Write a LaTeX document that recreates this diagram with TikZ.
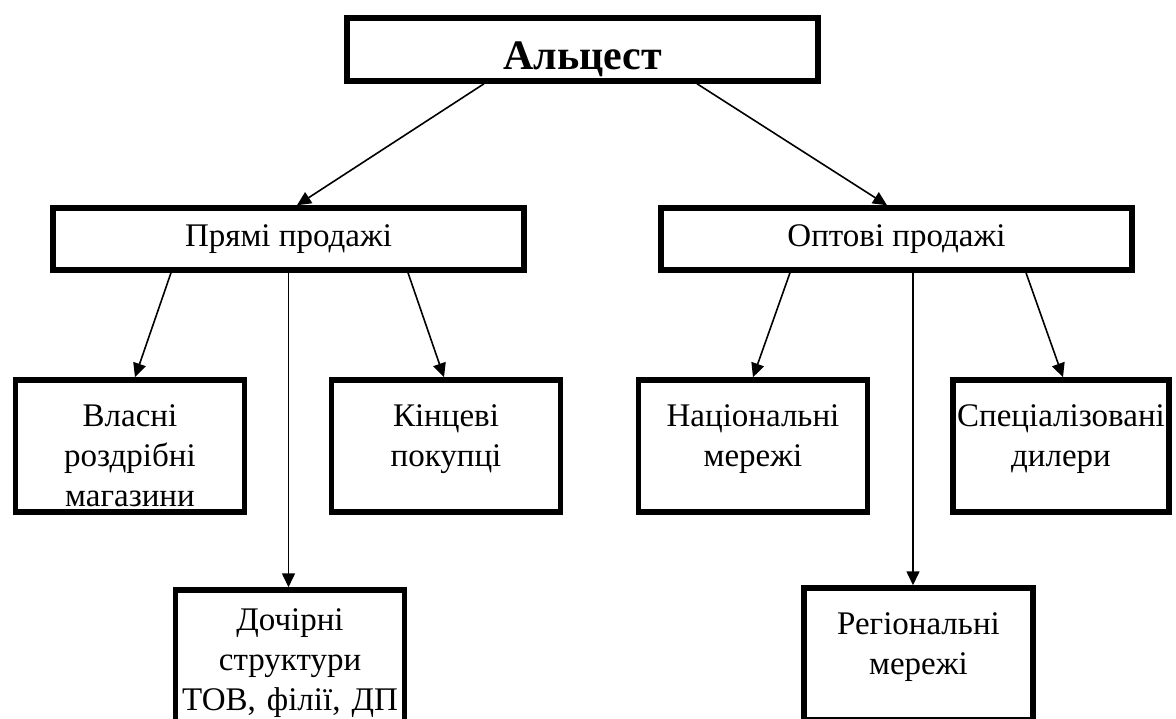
\documentclass[tikz,border=0pt]{standalone}
\usepackage{fontspec}
\setmainfont{Liberation Serif}
\usetikzlibrary{arrows.meta}

\begin{document}
\begin{tikzpicture}[x=1pt,y=-1pt,->,>={Triangle[length=14pt,width=13pt]},line width=1.6pt,
        top node/.style={rectangle,draw,line width=5.5pt,minimum width=471pt,minimum height=63pt,
          inner sep=0pt,text height=39pt,text depth=0pt,font=\fontsize{42}{48}\selectfont\bfseries},
        group node/.style={rectangle,draw,line width=5.5pt,minimum width=471pt,minimum height=62pt,
          inner sep=0pt,font=\fontsize{33}{39}\selectfont},
        leaf node/.style={rectangle,draw,line width=5.5pt,text width=229pt,align=center,inner sep=0pt,
          text height=46pt,text depth=86pt,font=\fontsize{33}{40}\selectfont}]

      \clip (0,0) rectangle (1176,718);

      \node[top node] (alc) at (582.5,49.5) {Альцест};
      \node[group node] (direct) at (288.5,239) {Прямі продажі};
      \node[group node] (whole) at (896.5,239) {Оптові продажі};

      \node[leaf node] (own) at (130,446) {Власні\\роздрібні\\магазини};
      \node[leaf node] (final) at (446,446) {Кінцеві\\покупці};
      \node[leaf node,text height=40pt,text depth=92pt] (sub) at (290,656) {Дочірні\\структури\\ТОВ, філії, ДП};
      \node[leaf node] (nat) at (753,446) {Національні\\мережі};
      \node[leaf node,text width=216pt] (spec) at (1061,446) {Спеціалізовані\\дилери};
      \node[leaf node] (reg) at (918.5,654) {Регіональні\\мережі};

      \path
      ([xshift=-98.5pt]alc.south) edge ([xshift=8.5pt]direct.north)
      ([xshift=114.5pt]alc.south) edge ([xshift=-9.5pt]whole.north)
      ([xshift=-117.5pt]direct.south) edge ([xshift=5pt]own.north)
      (direct.south) edge ([xshift=-1.5pt]sub.north)
      ([xshift=119.5pt]direct.south) edge ([xshift=-2pt]final.north)
      ([xshift=-106.5pt]whole.south) edge (nat.north)
      ([xshift=16.5pt]whole.south) edge ([xshift=-5.5pt]reg.north)
      ([xshift=129.5pt]whole.south) edge ([xshift=2pt]spec.north);
\end{tikzpicture}
\end{document}
